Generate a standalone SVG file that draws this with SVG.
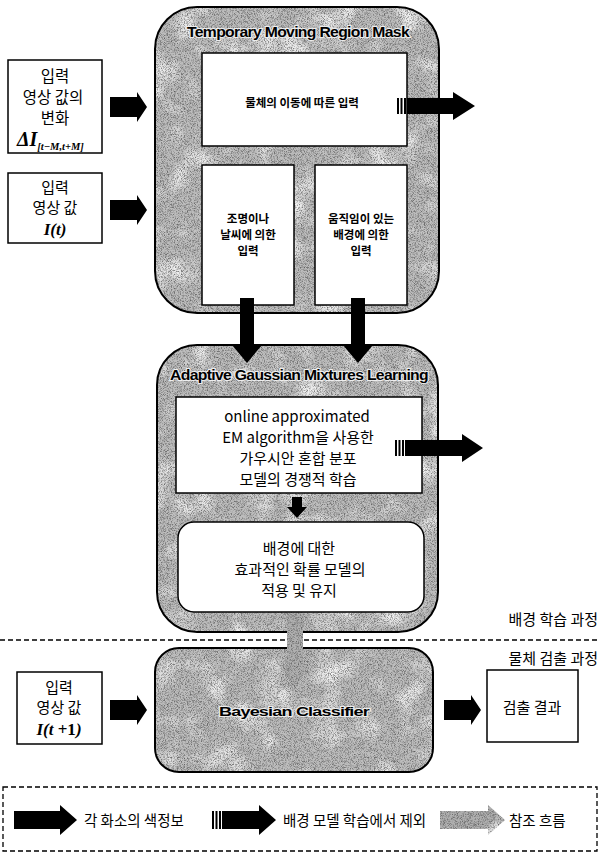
<svg xmlns="http://www.w3.org/2000/svg" width="600" height="856" viewBox="0 0 600 856">
<defs>
<style>
.cont{fill:#bdbdbd}
.contl{fill:none;stroke:#000;stroke-width:2}
.box{fill:#fff;stroke:#000;stroke-width:1.5}
.kr{font-family:"Noto Sans CJK KR","Noto Sans",sans-serif;fill:#000}
.krb{font-family:"Noto Sans CJK KR","Noto Sans",sans-serif;fill:#000;font-weight:bold}
.en{font-family:"Liberation Sans",Arial,sans-serif;font-weight:bold;fill:#000;stroke:#eeeeee;stroke-width:2;paint-order:stroke;letter-spacing:-0.6px}
.math{font-family:"Liberation Serif","Times New Roman",serif;font-style:italic;font-weight:bold;fill:#000}
.blk{fill:#000}
.gry{fill:#b0b0b0}
.dash{fill:none;stroke:#000;stroke-width:1.3;stroke-dasharray:5 3}
</style>
<filter id="grain" x="-2%" y="-2%" width="104%" height="104%" color-interpolation-filters="sRGB">
<feTurbulence type="fractalNoise" baseFrequency="1.3" numOctaves="1" seed="4" result="t"/>
<feColorMatrix in="t" type="matrix" values="0 0 0 0 0.3  0 0 0 0 0.3  0 0 0 0 0.3  -2.2 0 0 0 1.25" result="dots"/>
<feTurbulence type="fractalNoise" baseFrequency="0.035" numOctaves="2" seed="9" result="t2"/>
<feColorMatrix in="t2" type="matrix" values="0 0 0 0 1  0 0 0 0 1  0 0 0 0 1  0 2.4 0 0 -1.15" result="light"/>
<feComposite in="light" in2="SourceGraphic" operator="atop" result="s1"/>
<feComposite in="dots" in2="s1" operator="atop"/>
</filter>
<path id="arrR" d="M0,-10 H27 V-15 L37,0 L27,15 V10 H0 Z"/>
</defs>
<rect width="600" height="856" fill="#fff"/>

<g id="mask">
<rect class="cont" x="155" y="7" width="284" height="306" rx="42" filter="url(#grain)"/>
<rect class="contl" x="155" y="7" width="284" height="306" rx="42"/>
<text class="en" x="298" y="37" font-size="14" text-anchor="middle" textLength="222" lengthAdjust="spacingAndGlyphs">Temporary Moving Region Mask</text>
</g>
<g id="mask-move">
<rect class="box" x="202" y="53" width="205" height="93"/>
<text class="krb" x="302" y="107" font-size="11.5" text-anchor="middle">물체의 이동에 따른 입력</text>
</g>
<g id="mask-light">
<rect class="box" x="202" y="165" width="92" height="140"/>
<text class="krb" font-size="11.5" text-anchor="middle"><tspan x="248" y="223">조명이나</tspan><tspan x="248" y="239">날씨에 의한</tspan><tspan x="248" y="255">입력</tspan></text>
</g>
<g id="mask-bg">
<rect class="box" x="315" y="165" width="92" height="140"/>
<text class="krb" font-size="11.5" text-anchor="middle"><tspan x="361" y="223">움직임이 있는</tspan><tspan x="361" y="239">배경에 의한</tspan><tspan x="361" y="255">입력</tspan></text>
</g>

<g id="in1">
<rect class="box" x="8" y="60" width="94" height="93"/>
<text class="kr" font-size="15.5" text-anchor="middle"><tspan x="55" y="82">입력</tspan><tspan x="53" y="103">영상 값의</tspan><tspan x="55" y="124">변화</tspan></text>
<text class="math" x="17" y="146" font-size="20">ΔI<tspan font-size="10.5" dy="4">[t−M,t+M]</tspan></text>
</g>
<g id="in2">
<rect class="box" x="8" y="173" width="94" height="70"/>
<text class="kr" font-size="15" text-anchor="middle"><tspan x="55" y="193">입력</tspan><tspan x="55" y="213">영상 값</tspan></text>
<text class="math" x="55" y="235" font-size="17" text-anchor="middle">I(t)</text>
</g>

<g id="agm">
<rect class="cont" x="157" y="345" width="281" height="287" rx="40" filter="url(#grain)"/>
<rect class="contl" x="157" y="345" width="281" height="287" rx="40"/>
<text class="en" x="299" y="380" font-size="14" text-anchor="middle" textLength="258" lengthAdjust="spacingAndGlyphs">Adaptive Gaussian Mixtures Learning</text>
</g>
<g id="agm-em">
<rect class="box" x="176" y="397" width="246" height="96"/>
<text class="kr" font-size="15" text-anchor="middle"><tspan x="297" y="422">online approximated</tspan><tspan x="298" y="443">EM algorithm을 사용한</tspan><tspan x="298" y="464">가우시안 혼합 분포</tspan><tspan x="298" y="485">모델의 경쟁적 학습</tspan></text>
</g>
<g id="agm-model">
<rect class="box" x="178" y="522" width="246" height="90" rx="16"/>
<text class="kr" font-size="15" text-anchor="middle"><tspan x="299" y="554">배경에 대한</tspan><tspan x="300" y="575">효과적인 확률 모델의</tspan><tspan x="299" y="596">적용 및 유지</tspan></text>
</g>

<g id="phase-labels">
<text class="kr" x="598" y="625" font-size="15" text-anchor="end">배경 학습 과정</text>
<line class="dash" x1="0" y1="640" x2="600" y2="640"/>
<text class="kr" x="598" y="664" font-size="15" text-anchor="end">물체 검출 과정</text>
</g>

<g id="bayes">
<rect class="cont" x="155" y="648" width="278" height="124" rx="24" filter="url(#grain)"/>
<rect class="contl" x="155" y="648" width="278" height="124" rx="24"/>
<text class="en" x="294" y="716" font-size="13.5" text-anchor="middle" textLength="150" lengthAdjust="spacingAndGlyphs">Bayesian Classifier</text>
</g>
<g id="in3">
<rect class="box" x="17" y="672" width="85" height="72"/>
<text class="kr" font-size="15" text-anchor="middle"><tspan x="59" y="693">입력</tspan><tspan x="59" y="713">영상 값</tspan></text>
<text class="math" x="59" y="735" font-size="17" text-anchor="middle">I(t<tspan font-style="normal"> +1</tspan>)</text>
</g>
<g id="result">
<rect class="box" x="487" y="670" width="91" height="72"/>
<text class="kr" x="532" y="713" font-size="15" text-anchor="middle">검출 결과</text>
</g>

<g id="connectors">
<use href="#arrR" class="blk" transform="translate(110,107)"/>
<use href="#arrR" class="blk" transform="translate(110,210)"/>
<path class="blk" d="M240,298 H254 V345 H262 L247,363 L232,345 H240 Z"/>
<path class="blk" d="M351,298 H365 V345 H373 L358,363 L343,345 H351 Z"/>
<g class="blk">
<rect x="397" y="98" width="2" height="16"/><rect x="400.5" y="98" width="2" height="16"/><rect x="404" y="98" width="2" height="16"/>
<path d="M407,98 H453 V92 L475,106 L453,120 V114 H407 Z"/>
</g>
<g class="blk">
<rect x="395" y="440" width="2" height="16"/><rect x="398.5" y="440" width="2" height="16"/><rect x="402" y="440" width="2" height="16"/>
<path d="M405,440 H462 V434 L483,448 L462,462 V456 H405 Z"/>
</g>
<path class="blk" d="M292,497 H302 V507 H307 L297,518 L287,507 H292 Z"/>
<path class="gry" filter="url(#grain)" d="M287,613 H303 V665 H310 L295,688 L280,665 H287 Z"/>
<use href="#arrR" class="blk" transform="translate(110,710)"/>
<use href="#arrR" class="blk" transform="translate(444,710)"/>
</g>

<g id="legend">
<rect class="dash" x="3" y="787" width="594" height="64"/>
<path class="blk" d="M14,811 H60 V805 L77,820 L60,835 V829 H14 Z"/>
<text class="kr" x="84" y="826" font-size="14.5">각 화소의 색정보</text>
<g class="blk">
<rect x="212" y="811" width="2" height="18"/><rect x="215.5" y="811" width="2" height="18"/><rect x="219" y="811" width="2" height="18"/>
<path d="M222,811 H259 V805 L276,820 L259,835 V829 H222 Z"/>
</g>
<text class="kr" x="283" y="826" font-size="14.5">배경 모델 학습에서 제외</text>
<path class="gry" filter="url(#grain)" d="M440,811 H488 V805 L505,820 L488,835 V829 H440 Z"/>
<text class="kr" x="509" y="826" font-size="14.5">참조 흐름</text>
</g>
</svg>
